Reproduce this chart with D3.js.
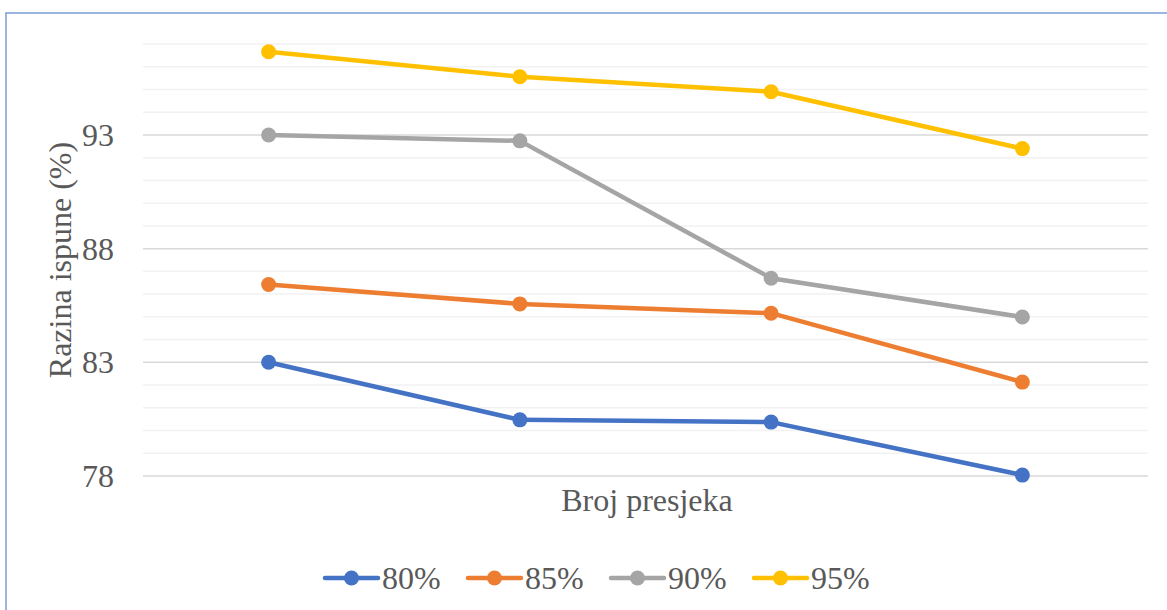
<!DOCTYPE html>
<html>
<head>
<meta charset="utf-8">
<script src="https://cdn.jsdelivr.net/npm/d3@7"></script>
<style>
  html, body { margin: 0; padding: 0; background: #fff; }
  svg text { font-family: 'Liberation Serif', 'Times New Roman', Times, serif; }
</style>
</head>
<body>
<svg id="chart" width="1167" height="610"></svg>
<script>
// ---- data ----
const categories = ["1", "2", "3", "4"];
const seriesNames = ["80%", "85%", "90%", "95%"];
const values80 = [83.0, 80.47, 80.37, 78.04];
const values85 = [86.42, 85.57, 85.16, 82.13];
const values90 = [93.0, 92.74, 86.70, 84.99];
const values95 = [96.66, 95.56, 94.90, 92.40];
const seriesColors = ["#4472C4", "#ED7D31", "#A5A5A5", "#FFC000"];
const yTickLabels = [78, 83, 88, 93];
const yMin = 78, yMax = 97;
const yTitle = "Razina ispune (%)";
const xTitle = "Broj presjeka";

(function () {
const FONT = "'Liberation Serif', 'Times New Roman', serif";
const FS = 32;
const TXT = "#595959";
const series = [values80, values85, values90, values95].map((v, i) => ({
  name: seriesNames[i], color: seriesColors[i], values: v
}));

const svg = d3.select("#chart");
const pLeft = 143, pRight = 1148, pTop = 44, pBottom = 476;

// outer border
svg.append("rect")
  .attr("x", 6).attr("y", 13)
  .attr("width", 1200).attr("height", 700)
  .attr("fill", "#fff")
  .attr("stroke", "#7c9dd6").attr("stroke-width", 1.5);

const x = d3.scaleBand().domain(categories).range([pLeft, pRight]);
const y = d3.scaleLinear().domain([yMin, yMax]).range([pBottom, pTop]);

// gridlines: minor every 1, major every 5
const minorTicks = d3.range(yMin, yMax + 1, 1);
svg.append("g").selectAll("line")
  .data(minorTicks)
  .join("line")
  .attr("x1", pLeft).attr("x2", pRight)
  .attr("y1", d => y(d)).attr("y2", d => y(d))
  .attr("stroke", d => yTickLabels.includes(d) ? "#d9d9d9" : "#f2f2f2")
  .attr("stroke-width", 1.5);

// y axis labels
const yAxis = d3.axisLeft(y).tickValues(yTickLabels).tickSize(0).tickPadding(0).tickFormat(d3.format("d"));
const yg = svg.append("g").attr("transform", `translate(114,0)`).call(yAxis)
  .attr("font-family", FONT).attr("font-size", FS);
yg.select(".domain").remove();
yg.selectAll("text")
  .attr("fill", TXT)
  .attr("dy", "0.33em");

// x axis (no tick labels shown)
const xAxis = d3.axisBottom(x).tickSize(0).tickFormat("");
const xg = svg.append("g").attr("transform", `translate(0,${pBottom})`).call(xAxis);
xg.select(".domain").remove();

// axis titles
svg.append("text")
  .attr("transform", `translate(71,260) rotate(-90)`)
  .attr("text-anchor", "middle")
  .attr("fill", TXT)
  .attr("font-family", FONT)
  .attr("font-size", FS)
  .text(yTitle);

svg.append("text")
  .attr("x", 647).attr("y", 511)
  .attr("text-anchor", "middle")
  .attr("fill", TXT)
  .attr("font-family", FONT)
  .attr("font-size", FS)
  .text(xTitle);

// lines
const line = d3.line()
  .x((d, i) => x(categories[i]) + x.bandwidth() / 2)
  .y(d => y(d));

const sg = svg.append("g").selectAll("g").data(series).join("g");
sg.append("path")
  .attr("d", d => line(d.values))
  .attr("fill", "none")
  .attr("stroke", d => d.color)
  .attr("stroke-width", 4.5)
  .attr("stroke-linejoin", "round")
  .attr("stroke-linecap", "round");
sg.selectAll("circle")
  .data(d => d.values.map((v, i) => ({ v, i, color: d.color })))
  .join("circle")
  .attr("cx", d => x(categories[d.i]) + x.bandwidth() / 2)
  .attr("cy", d => y(d.v))
  .attr("r", 7.5)
  .attr("fill", d => d.color);

// legend
const legend = svg.append("g").attr("transform", "translate(323,578)");
const li = legend.selectAll("g").data(series).join("g")
  .attr("transform", (d, i) => `translate(${i * 143},0)`);
li.append("line")
  .attr("x1", 2).attr("x2", 55).attr("y1", 0).attr("y2", 0)
  .attr("stroke", d => d.color).attr("stroke-width", 4.5)
  .attr("stroke-linecap", "round");
li.append("circle")
  .attr("cx", 28.5).attr("cy", 0).attr("r", 7.5)
  .attr("fill", d => d.color);
li.append("text")
  .attr("x", 59).attr("y", 0).attr("dy", "0.33em")
  .attr("fill", TXT)
  .attr("font-family", FONT)
  .attr("font-size", FS)
  .text(d => d.name);
})();
</script>
</body>
</html>
